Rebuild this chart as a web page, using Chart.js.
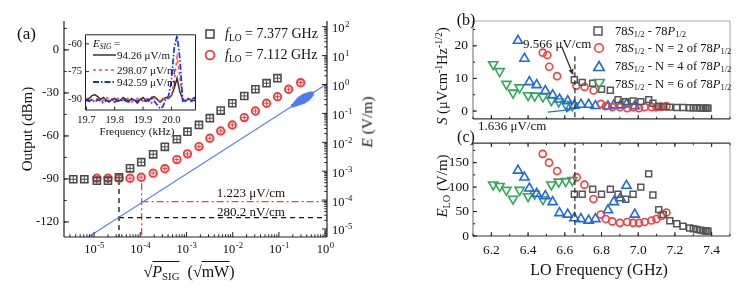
<!DOCTYPE html>
<html>
<head>
<meta charset="utf-8">
<script src="https://cdn.jsdelivr.net/npm/chart.js@4.4.0/dist/chart.umd.min.js"></script>
<style>
body { margin: 0; background: #fff; }
#wrap { position: relative; width: 748px; height: 299px; overflow: hidden; font-family: "Liberation Serif", "Times New Roman", serif; color: #111; }
canvas { position: absolute; }
.t { position: absolute; white-space: nowrap; line-height: 1; }
.mid { transform: translateY(-50%); }
.cen { transform: translate(-50%, -50%); }
.rot { transform: translate(-50%, -50%) rotate(-90deg); }
.mk { position: absolute; transform: translate(-50%, -50%); }
sub { font-size: 68%; vertical-align: -0.3em; line-height: 0; }
sup { font-size: 68%; vertical-align: 0.5em; line-height: 0; }
.ov { border-top: 1px solid #111; padding-top: 1px; }
</style>
</head>
<body>
<div id="wrap">
  <canvas id="chartA" width="400" height="299" style="left:0;top:0"></canvas>
  <canvas id="chartIn" width="140" height="115" style="left:60px;top:25px"></canvas>
  <canvas id="chartB" width="348" height="132" style="left:400px;top:0"></canvas>
  <canvas id="chartC" width="348" height="168" style="left:400px;top:131px"></canvas>

  <!-- panel (a) text -->
  <div class="t mid" style="left:17px;top:33px;font-size:17px">(a)</div>
  <div class="t rot" style="left:27px;top:129px;font-size:15px">Output (dBm)</div>
  <div class="t rot" style="left:367px;top:122px;font-size:15.5px"><i>E</i> (V/m)</div>
  <div class="t cen" style="left:189px;top:272px;font-size:16px">√<span class="ov"><i>P</i><sub>SIG</sub></span>&nbsp;&nbsp;(√<span class="ov">mW</span>)</div>
  <svg class="mk" style="left:210px;top:34px" width="12" height="12"><rect x="2" y="2" width="8" height="8" fill="none" stroke="#4a4a4a" stroke-width="1.6"/></svg>
  <div class="t mid" style="left:225px;top:34px;font-size:14px"><i>f</i><sub>LO</sub> = 7.377 GHz</div>
  <svg class="mk" style="left:210px;top:55px" width="13" height="13"><circle cx="6.5" cy="6.5" r="4.4" fill="none" stroke="#ee3b3b" stroke-width="1.8"/></svg>
  <div class="t mid" style="left:225px;top:55px;font-size:14px"><i>f</i><sub>LO</sub> = 7.112 GHz</div>
  <div class="t cen" style="left:251px;top:192px;font-size:13px">1.223 μV/cm</div>
  <div class="t cen" style="left:251px;top:211px;font-size:13px">280.2 nV/cm</div>

  <!-- inset text -->
  <div class="t mid" style="left:93px;top:43px;font-size:11px"><i>E</i><sub><i>SIG</i></sub> =</div>
  <svg style="position:absolute;left:93px;top:51px" width="24" height="8"><line x1="0" y1="4" x2="23" y2="4" stroke="#333" stroke-width="1.5"/></svg>
  <div class="t mid" style="left:117px;top:55px;font-size:11px">94.26 μV/m</div>
  <svg style="position:absolute;left:93px;top:66px" width="24" height="8"><line x1="0" y1="4" x2="23" y2="4" stroke="#ff4545" stroke-width="1.5" stroke-dasharray="3,3"/></svg>
  <div class="t mid" style="left:117px;top:70px;font-size:11px">298.07 μV/m</div>
  <svg style="position:absolute;left:93px;top:78px" width="24" height="8"><line x1="0" y1="4" x2="23" y2="4" stroke="#1133ee" stroke-width="1.8" stroke-dasharray="6,2,1.5,2"/></svg>
  <div class="t mid" style="left:117px;top:82px;font-size:11px">942.59 μV/m</div>
  <div class="t cen" style="left:137px;top:131px;font-size:11px">Frequency (kHz)</div>

  <!-- panels (b), (c) text -->
  <div class="t cen" style="left:466px;top:20px;font-size:16px">(b)</div>
  <div class="t cen" style="left:466px;top:137px;font-size:16px">(c)</div>
  <div class="t rot" style="left:442px;top:76px;font-size:14.5px"><i>S</i> (μVcm<sup>-1</sup>Hz<sup>-1/2</sup>)</div>
  <div class="t rot" style="left:442px;top:186px;font-size:15px"><i>E</i><sub>LO</sub> (V/m)</div>
  <div class="t cen" style="left:599px;top:270px;font-size:16px">LO Frequency (GHz)</div>
  <div class="t mid" style="left:523px;top:43px;font-size:13px">9.566 μV/cm</div>
  <div class="t mid" style="left:478px;top:125px;font-size:13px">1.636 μV/cm</div>

  <svg class="mk" style="left:598px;top:31px" width="11" height="11"><rect x="1.5" y="1.5" width="8" height="8" fill="none" stroke="#555" stroke-width="1.5"/></svg>
  <div class="t mid" style="left:615px;top:31px;font-size:12.5px">78<i>S</i><sub>1/2</sub> - 78<i>P</i><sub>1/2</sub></div>
  <svg class="mk" style="left:599px;top:48px" width="12" height="12"><circle cx="6" cy="6" r="4.3" fill="none" stroke="#ef4040" stroke-width="1.6"/></svg>
  <div class="t mid" style="left:615px;top:48px;font-size:12.5px">78<i>S</i><sub>1/2</sub> - N = 2 of 78<i>P</i><sub>1/2</sub></div>
  <svg class="mk" style="left:599px;top:66px" width="13" height="12"><polygon points="6.5,1.5 11.8,10.5 1.2,10.5" fill="none" stroke="#2268dc" stroke-width="1.6"/></svg>
  <div class="t mid" style="left:615px;top:66px;font-size:12.5px">78<i>S</i><sub>1/2</sub> - N = 4 of 78<i>P</i><sub>1/2</sub></div>
  <svg class="mk" style="left:599px;top:84px" width="13" height="12"><polygon points="1.2,1.5 11.8,1.5 6.5,10.5" fill="none" stroke="#33a65a" stroke-width="1.6"/></svg>
  <div class="t mid" style="left:615px;top:84px;font-size:12.5px">78<i>S</i><sub>1/2</sub> - N = 6 of 78<i>P</i><sub>1/2</sub></div>
</div>

<script>
// ---- panel (a): output vs sqrt(P_SIG) ----
const sqX = [3.55e-6, 6.17e-6, 1.15e-5, 2.0e-5, 3.47e-5, 6.0e-5, 1.05e-4, 1.9e-4, 3.4e-4, 6.2e-4, 1.05e-3, 1.86e-3, 3.2e-3, 5.5e-3, 9.8e-3, 0.0178, 0.031, 0.054, 0.093];
const sqDbm = [-90.2, -90.2, -91.2, -91.2, -88.8, -82.6, -78.3, -72.8, -67.6, -62.3, -57, -52.3, -47.6, -42.3, -37.2, -32.1, -27.4, -23.2, -19.7];
const circX = [1.15e-5, 2.0e-5, 3.47e-5, 6.0e-5, 1.05e-4, 1.9e-4, 3.4e-4, 6.2e-4, 1.05e-3, 1.86e-3, 3.2e-3, 5.5e-3, 9.8e-3, 0.0178, 0.031, 0.054, 0.093, 0.162, 0.295];
const circDbm = [-89.5, -89.5, -89.5, -89.5, -88.8, -86, -82.8, -76.5, -72.5, -67.4, -61.6, -56.5, -52.3, -47.2, -42.6, -37.2, -32.6, -27.4, -22.8];
const lineX = [7.5e-6, 1.1];
const lineE = [5.3e-6, 1.07];
const blobX = [0.20, 0.22, 0.24, 0.26, 0.28, 0.30, 0.32, 0.34, 0.36, 0.38, 0.40, 0.42, 0.45, 0.48, 0.51];
const blobE = [0.185, 0.204, 0.223, 0.242, 0.261, 0.28, 0.30, 0.318, 0.337, 0.357, 0.376, 0.395, 0.424, 0.453, 0.483];
const blackX = 3.47e-5, blackDbm = -90.8, blackE = 2.46e-5;
const redX = 1.07e-4, redDbm = -93, redE = 8.8e-5;
const aYTicks = [-120, -90, -60, -30, 0];
const aXExps = [-5, -4, -3, -2, -1, 0];
const aEExps = [2, 1, 0, -1, -2, -3, -4, -5];

// ---- inset: spectra ----
const insetF = [19.70, 19.71, 19.72, 19.73, 19.74, 19.75, 19.76, 19.77, 19.78, 19.79, 19.80, 19.81, 19.82, 19.83, 19.84, 19.85, 19.86, 19.87, 19.88, 19.89,
                19.90, 19.91, 19.92, 19.93, 19.94, 19.95, 19.96, 19.97, 19.98, 19.99, 20.00, 20.01, 20.02, 20.03, 20.04, 20.05, 20.06, 20.07, 20.08, 20.09];
const spec94 = [-91, -89.5, -88, -87.5, -88.5, -90, -89, -90.5, -91.5, -90, -89.5, -91, -90.5, -89, -90, -91, -89.5, -90.5, -92, -90,
                -89, -90.5, -91, -89, -88.5, -90, -91.5, -90, -89, -89.5, -88, -84, -78.5, -86, -90, -91, -89.5, -90.5, -89, -91];
const spec298 = [-90, -89, -90.5, -89.5, -90, -91, -90.5, -89, -90, -90.5, -91, -89.5, -90, -90.5, -89, -90, -91.5, -90, -89.5, -90,
                 -91, -89.5, -90, -92, -89, -90.5, -91, -89.5, -90.5, -89, -88, -80, -67, -78, -90, -90.5, -89.5, -90, -91, -90];
const spec942 = [-90.5, -91, -90, -91.5, -90, -91, -92, -90.5, -91, -90, -91.5, -90.5, -91, -90, -91, -91.5, -90, -90.5, -91, -90,
                 -90.5, -91, -90, -89.5, -91, -93, -95, -94, -90, -88, -80, -62, -55.5, -68, -91, -90.5, -90, -91, -90.5, -91];
const inXTicks = [19.7, 19.8, 19.9, 20.0];
const inYTicks = [-90, -75, -60];

// ---- panels (b), (c): vs LO frequency ----
const grayF = [6.652, 6.695, 6.752, 6.8, 6.848, 6.89, 6.932, 6.972, 7.014, 7.057, 7.08, 7.112, 7.136, 7.172, 7.21, 7.244, 7.28, 7.30, 7.32, 7.34, 7.355, 7.365, 7.375, 7.38];
const grayS = [9.6, 8.8, 8.5, 6.7, 6.4, 3.5, 2.9, 3.1, 2.9, 3.5, 2.4, 1.5, 1.3, 1.2, 1.1, 1.1, 1.0, 1.0, 1.0, 0.9, 0.9, 0.9, 0.9, 0.9];
const grayE = [85.5, 85.5, 95.8, 85.5, 95.8, 85.5, 75, 85.5, 100, 127, 84, 54, 44, 31, 25, 20, 16.5, 14.7, 13.4, 12, 11, 10.4, 10, 10];
const redFB = [6.48, 6.505, 6.515, 6.558, 6.663, 6.708, 6.757, 6.797, 6.823, 6.859, 6.9, 6.94, 6.972, 7.004, 7.035, 7.072, 7.099, 7.126, 7.154];
const redS = [17.9, 17.2, 13.6, 10.7, 7.8, 7.4, 6.3, 2.2, 1.5, 1.2, 1.2, 0.9, 1.2, 0.9, 1.2, 1.2, 1.2, 1.3, 1.5];
const redFC = [6.48, 6.514, 6.558, 6.665, 6.707, 6.756, 6.796, 6.823, 6.859, 6.9, 6.94, 6.972, 7.004, 7.035, 7.072, 7.099, 7.126, 7.154];
const redEL = [168, 150, 133, 120, 105, 75.6, 44, 34.8, 29.9, 26.9, 28.7, 26.9, 26.9, 28.7, 31.7, 34.8, 40.8, 48.2];
const blueF = [6.345, 6.38, 6.407, 6.447, 6.494, 6.534, 6.571, 6.616, 6.652, 6.688, 6.73, 6.767, 6.835, 6.867, 6.903, 6.936, 6.981];
const blueS = [21.6, 16.1, 8.9, 8.0, 6.2, 4.9, 3.6, 3.1, 1.7, 2.0, 2.0, 1.6, 1.5, 1.8, 1.8, 2.1, 1.5];
const blueE = [134, 120, 97.6, 86.7, 81.8, 69.6, 47, 44, 36.6, 34.8, 31.7, 34.8, 53, 69.6, 77.5, 103, 44];
const greenF = [6.21, 6.245, 6.282, 6.318, 6.354, 6.40, 6.436, 6.481, 6.527, 6.567, 6.605, 6.641];
const greenS = [14.3, 12.2, 8.3, 5.6, 7.2, 4.8, 4.7, 4.4, 3.3, 2.9, 2.1, 1.7];
const greenE = [105, 102, 94, 76, 94, 81, 86, 75, 105, 111, 112, 114];
const markF = 6.655;
const arrowGray = [[6.583, 19.8], [6.646, 11.0]];
const arrowBlue = [[6.507, -0.3], [6.638, 0.5]];
const fTicks = [6.2, 6.4, 6.6, 6.8, 7.0, 7.2, 7.4];
const bYTicks = [0, 10, 20];
const cYTicks = [0, 50, 100, 150];

const SERIF = '"Liberation Serif", "Times New Roman", serif';
Chart.defaults.font.family = SERIF;
Chart.defaults.color = '#111';

function pts(xs, ys) {
    return xs.map((x, i) => ({ x: x, y: ys[i] }));
}

function fixedTicks(values) {
    return s => { s.ticks = values.map(v => ({ value: v })); };
}

// draws the axis frame lines
function frame(sides) {
    return {
        id: 'frame',
        afterDraw(chart) {
            const ctx = chart.ctx, a = chart.chartArea;
            ctx.save();
            ctx.lineWidth = sides.width || 1.1;
            const line = (c, x1, y1, x2, y2) => {
                if (!c) return;
                ctx.strokeStyle = c;
                ctx.beginPath(); ctx.moveTo(x1, y1); ctx.lineTo(x2, y2); ctx.stroke();
            };
            line(sides.top, a.left, a.top, a.right, a.top);
            line(sides.right, a.right, a.top, a.right, a.bottom);
            line(sides.bottom, a.left, a.bottom, a.right, a.bottom);
            line(sides.left, a.left, a.top, a.left, a.bottom);
            ctx.restore();
        }
    };
}

// inward pointing tick marks (major + minor)
function inTicks(axes) {
    return {
        id: 'inTicks',
        afterDraw(chart) {
            const ctx = chart.ctx, a = chart.chartArea;
            ctx.save();
            ctx.strokeStyle = '#222';
            ctx.lineWidth = 1;
            axes.forEach(ax => {
                const s = chart.scales[ax.id];
                let major = [], minor = [];
                if (s.type === 'logarithmic') {
                    const lo = Math.floor(Math.log10(s.min)), hi = Math.ceil(Math.log10(s.max));
                    for (let d = lo; d <= hi; d++) {
                        major.push(Math.pow(10, d));
                        for (let m = 2; m < 10; m++) minor.push(m * Math.pow(10, d));
                    }
                } else {
                    major = s.ticks.map(t => t.value);
                    if (ax.minor) {
                        for (let k = Math.ceil(s.min / ax.minor); k * ax.minor <= s.max; k++) minor.push(k * ax.minor);
                    }
                }
                const draw = (vals, len) => vals.forEach(v => {
                    if (v < s.min || v > s.max) return;
                    const p = s.getPixelForValue(v);
                    ax.sides.forEach(side => {
                        ctx.beginPath();
                        if (side === 'bottom') { ctx.moveTo(p, a.bottom); ctx.lineTo(p, a.bottom - len); }
                        if (side === 'top') { ctx.moveTo(p, a.top); ctx.lineTo(p, a.top + len); }
                        if (side === 'left') { ctx.moveTo(a.left, p); ctx.lineTo(a.left + len, p); }
                        if (side === 'right') { ctx.moveTo(a.right, p); ctx.lineTo(a.right - len, p); }
                        ctx.stroke();
                    });
                });
                draw(major, ax.len);
                draw(minor, ax.len * 0.55);
            });
            ctx.restore();
        }
    };
}

// "10^n" tick labels for log axes
function powLabels(axes) {
    return {
        id: 'powLabels',
        afterDraw(chart) {
            const ctx = chart.ctx, a = chart.chartArea;
            ctx.save();
            ctx.fillStyle = '#111';
            ctx.textBaseline = 'alphabetic';
            axes.forEach(ax => {
                const s = chart.scales[ax.id];
                const small = ax.size * 0.7;
                ax.exps.forEach(e => {
                    const p = s.getPixelForValue(Math.pow(10, e));
                    ctx.font = ax.size + 'px ' + SERIF;
                    const wb = ctx.measureText('10').width;
                    ctx.font = small + 'px ' + SERIF;
                    const ws = ctx.measureText(String(e)).width;
                    let x, y;
                    if (ax.side === 'bottom') {
                        x = p - (wb + ws) / 2;
                        y = a.bottom + ax.offset;
                    } else {
                        x = a.right + ax.offset;
                        y = p + 5.5;
                    }
                    ctx.font = ax.size + 'px ' + SERIF;
                    ctx.fillText('10', x, y);
                    ctx.font = small + 'px ' + SERIF;
                    ctx.fillText(String(e), x + wb + 0.5, y - ax.size * 0.4);
                });
            });
            ctx.restore();
        }
    };
}

function areaFill(color) {
    return {
        id: 'areaFill',
        beforeDatasetsDraw(chart) {
            const ctx = chart.ctx, a = chart.chartArea;
            ctx.save();
            ctx.fillStyle = color;
            ctx.fillRect(a.left, a.top, a.right - a.left, a.bottom - a.top);
            ctx.restore();
        }
    };
}

function arrows(list) {
    return {
        id: 'arrows',
        afterDatasetsDraw(chart) {
            const ctx = chart.ctx, sx = chart.scales.x, sy = chart.scales.y;
            list.forEach(ar => {
                const x1 = sx.getPixelForValue(ar.from[0]), y1 = sy.getPixelForValue(ar.from[1]);
                const x2 = sx.getPixelForValue(ar.to[0]), y2 = sy.getPixelForValue(ar.to[1]);
                const ang = Math.atan2(y2 - y1, x2 - x1);
                const c = Math.cos(ang), s = Math.sin(ang), hl = 6, hw = 2.6;
                ctx.save();
                ctx.strokeStyle = ar.color; ctx.fillStyle = ar.color; ctx.lineWidth = 1.3;
                ctx.beginPath(); ctx.moveTo(x1, y1); ctx.lineTo(x2 - c * hl, y2 - s * hl); ctx.stroke();
                ctx.beginPath(); ctx.moveTo(x2, y2);
                ctx.lineTo(x2 - hl * c + hw * s, y2 - hl * s - hw * c);
                ctx.lineTo(x2 - hl * c - hw * s, y2 - hl * s + hw * c);
                ctx.closePath(); ctx.fill();
                ctx.restore();
            });
        }
    };
}

const noGrid = { display: false, drawTicks: false };
const noBorder = { display: false };

// ---------- chart (a) ----------
new Chart(document.getElementById('chartA'), {
    type: 'scatter',
    data: {
        datasets: [
            { data: pts(sqX, sqDbm), yAxisID: 'y', pointStyle: 'cross', pointRadius: 3, borderColor: '#4a4a4a', borderWidth: 1 },
            { data: pts(sqX, sqDbm), yAxisID: 'y', pointStyle: 'rect', pointRadius: 5, borderColor: '#4a4a4a', borderWidth: 1.6, backgroundColor: 'rgba(0,0,0,0)' },
            { data: pts(circX, circDbm), yAxisID: 'y', pointStyle: 'cross', pointRadius: 2.3, borderColor: '#ee3b3b', borderWidth: 1 },
            { data: pts(circX, circDbm), yAxisID: 'y', pointStyle: 'circle', pointRadius: 3.7, borderColor: '#ee3b3b', borderWidth: 1.9, backgroundColor: 'rgba(0,0,0,0)' },
            { data: pts(blobX, blobE), yAxisID: 'y2', pointStyle: 'rect', pointRadius: [2.5, 3, 3.5, 4, 4.5, 5, 5, 5, 5, 5, 4.5, 4.5, 4, 3.5, 3], borderWidth: 0, backgroundColor: '#4f7cf2' },
            { data: pts(lineX, lineE), yAxisID: 'y2', showLine: true, pointRadius: 0, borderColor: '#5a7ff0', borderWidth: 1.2 },
            { data: [{ x: blackX, y: blackDbm }, { x: blackX, y: -140 }], yAxisID: 'y', showLine: true, pointRadius: 0, borderColor: '#111', borderWidth: 1.3, borderDash: [5, 4] },
            { data: [{ x: blackX, y: blackE }, { x: 2, y: blackE }], yAxisID: 'y2', showLine: true, pointRadius: 0, borderColor: '#111', borderWidth: 1.3, borderDash: [5, 4] },
            { data: [{ x: redX, y: redDbm }, { x: redX, y: -140 }], yAxisID: 'y', showLine: true, pointRadius: 0, borderColor: '#f04040', borderWidth: 1.3, borderDash: [7, 3, 2, 3] },
            { data: [{ x: redX, y: redE }, { x: 2, y: redE }], yAxisID: 'y2', showLine: true, pointRadius: 0, borderColor: '#f04040', borderWidth: 1.3, borderDash: [7, 3, 2, 3] }
        ]
    },
    options: {
        responsive: false, animation: false, events: [],
        layout: { padding: { top: 21, left: 0, right: 0, bottom: 0 } },
        plugins: { legend: { display: false }, tooltip: { enabled: false } },
        scales: {
            x: { type: 'logarithmic', min: 2.2387e-6, max: 1.0965, grid: noGrid, border: noBorder,
                 ticks: { display: false }, afterFit: s => { s.height = 62; } },
            y: { type: 'linear', position: 'left', min: -130.5, max: 20.2, grid: noGrid, border: noBorder,
                 ticks: { padding: 5, font: { size: 12.5 } },
                 afterBuildTicks: fixedTicks(aYTicks),
                 afterFit: s => { s.width = 64; } },
            y2: { type: 'logarithmic', position: 'right', min: 5.28e-6, max: 157.4, grid: noGrid, border: noBorder,
                  ticks: { display: false }, afterFit: s => { s.width = 73; } }
        }
    },
    plugins: [
        frame({ left: '#222', bottom: '#222', right: '#222', width: 1.2 }),
        inTicks([{ id: 'x', sides: ['bottom'], len: 5 }, { id: 'y', sides: ['left'], len: 5, minor: 15 }, { id: 'y2', sides: ['right'], len: 5 }]),
        powLabels([{ id: 'x', side: 'bottom', exps: aXExps, size: 12.5, offset: 15.5 }, { id: 'y2', side: 'right', exps: aEExps, size: 12.5, offset: 5 }])
    ]
});

// ---------- inset ----------
new Chart(document.getElementById('chartIn'), {
    type: 'scatter',
    data: {
        datasets: [
            { data: pts(insetF, spec942), showLine: true, pointRadius: 0, borderColor: '#1133ee', borderWidth: 1.7, borderDash: [6, 2, 1.5, 2] },
            { data: pts(insetF, spec298), showLine: true, pointRadius: 0, borderColor: '#ff4545', borderWidth: 1.5, borderDash: [3, 3] },
            { data: pts(insetF, spec94), showLine: true, pointRadius: 0, borderColor: '#333', borderWidth: 1.5 }
        ]
    },
    options: {
        responsive: false, animation: false, events: [],
        layout: { padding: { top: 7.3, right: 4.5, left: 0, bottom: 0 } },
        plugins: { legend: { display: false }, tooltip: { enabled: false } },
        scales: {
            x: { type: 'linear', min: 19.697, max: 20.085, grid: noGrid, border: noBorder,
                 ticks: { padding: 4, font: { size: 10.5 }, callback: v => v.toFixed(1) },
                 afterBuildTicks: fixedTicks(inXTicks),
                 afterFit: s => { s.height = 30; } },
            y: { type: 'linear', min: -95.76, max: -55.08, grid: noGrid, border: noBorder,
                 ticks: { padding: 3.5, font: { size: 10.5 } },
                 afterBuildTicks: fixedTicks(inYTicks),
                 afterFit: s => { s.width = 25.5; } }
        }
    },
    plugins: [
        areaFill('#fff'),
        frame({ left: '#222', bottom: '#222', right: '#222', top: '#222', width: 1 }),
        inTicks([{ id: 'x', sides: ['bottom'], len: 3.5 }, { id: 'y', sides: ['left'], len: 3.5 }])
    ]
});

// ---------- chart (b) ----------
const graySet = { pointStyle: 'rect', pointRadius: 4.2, borderColor: '#555', borderWidth: 1.5, backgroundColor: 'rgba(0,0,0,0)' };
const redSet = { pointStyle: 'circle', pointRadius: 3.5, borderColor: '#ef4040', borderWidth: 1.6, backgroundColor: 'rgba(0,0,0,0)' };
const blueSet = { pointStyle: 'triangle', pointRadius: 5.3, borderColor: '#2268dc', borderWidth: 1.6, backgroundColor: 'rgba(0,0,0,0)' };
const greenSet = { pointStyle: 'triangle', rotation: 180, pointRadius: 5.3, borderColor: '#33a65a', borderWidth: 1.6, backgroundColor: 'rgba(0,0,0,0)' };
const dashSet = { showLine: true, pointRadius: 0, borderColor: '#222', borderWidth: 1.2, borderDash: [5, 3] };

new Chart(document.getElementById('chartB'), {
    type: 'scatter',
    data: {
        datasets: [
            Object.assign({ data: [{ x: markF, y: 16.8 }, { x: markF, y: -5 }] }, dashSet),
            Object.assign({ data: pts(grayF, grayS) }, graySet),
            Object.assign({ data: pts(redFB, redS) }, redSet),
            Object.assign({ data: pts(blueF, blueS) }, blueSet),
            Object.assign({ data: pts(greenF, greenS) }, greenSet)
        ]
    },
    options: {
        responsive: false, animation: false, events: [],
        layout: { padding: { top: 21, right: 18, left: 0, bottom: 0.5 } },
        plugins: { legend: { display: false }, tooltip: { enabled: false } },
        scales: {
            x: { type: 'linear', min: 6.1, max: 7.5, grid: noGrid, border: noBorder,
                 ticks: { display: false }, afterBuildTicks: fixedTicks(fTicks),
                 afterFit: s => { s.height = 0; } },
            y: { type: 'linear', min: -2.4, max: 27.6, grid: noGrid, border: noBorder,
                 ticks: { padding: 5, font: { size: 13.5 } },
                 afterBuildTicks: fixedTicks(bYTicks),
                 afterFit: s => { s.width = 73; } }
        }
    },
    plugins: [
        frame({ left: '#777', bottom: '#333', right: '#aaa', top: '#aaa', width: 1.1 }),
        inTicks([{ id: 'x', sides: ['bottom'], len: 4, minor: 0.1 }, { id: 'y', sides: ['left'], len: 4, minor: 5 }]),
        arrows([{ from: arrowGray[0], to: arrowGray[1], color: '#333' }, { from: arrowBlue[0], to: arrowBlue[1], color: '#1f6fd8' }])
    ]
});

// ---------- chart (c) ----------
new Chart(document.getElementById('chartC'), {
    type: 'scatter',
    data: {
        datasets: [
            Object.assign({ data: [{ x: markF, y: -10 }, { x: markF, y: 200 }] }, dashSet),
            Object.assign({ data: pts(grayF, grayE) }, graySet),
            Object.assign({ data: pts(redFC, redEL) }, redSet),
            Object.assign({ data: pts(blueF, blueE) }, blueSet),
            Object.assign({ data: pts(greenF, greenE) }, greenSet)
        ]
    },
    options: {
        responsive: false, animation: false, events: [],
        layout: { padding: { top: 0.5, right: 18, left: 0, bottom: 0 } },
        plugins: { legend: { display: false }, tooltip: { enabled: false } },
        scales: {
            x: { type: 'linear', min: 6.1, max: 7.5, grid: noGrid, border: noBorder,
                 ticks: { padding: 6, font: { size: 13.5 }, callback: v => v.toFixed(1) },
                 afterBuildTicks: fixedTicks(fTicks),
                 afterFit: s => { s.height = 63; } },
            y: { type: 'linear', min: 0, max: 190, grid: noGrid, border: noBorder,
                 ticks: { padding: 4, font: { size: 13.5 } },
                 afterBuildTicks: fixedTicks(cYTicks),
                 afterFit: s => { s.width = 73; } }
        }
    },
    plugins: [
        frame({ left: '#777', bottom: '#333', right: '#aaa', top: '#333', width: 1.1 }),
        inTicks([{ id: 'x', sides: ['bottom', 'top'], len: 4, minor: 0.1 }, { id: 'y', sides: ['left'], len: 4, minor: 25 }])
    ]
});
</script>
</body>
</html>
